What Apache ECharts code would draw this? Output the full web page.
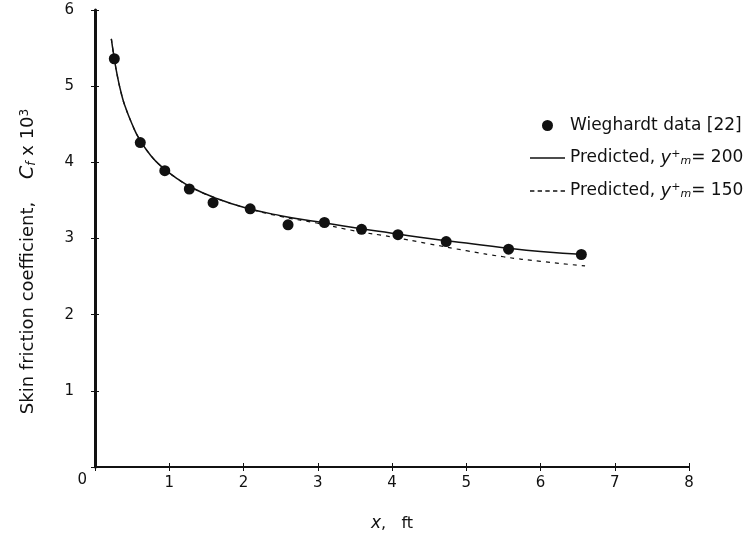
<!DOCTYPE html>
<html>
<head>
<meta charset="utf-8">
<script src="https://cdn.jsdelivr.net/npm/echarts@6/dist/echarts.min.js"></script>
<style>
html,body{margin:0;padding:0;background:#fff;}
#chart{width:754px;height:537px;}
</style>
</head>
<body>
<div id="chart"></div>
<script>
// Wieghardt data [22]
var dataX = [0.26, 0.61, 0.94, 1.27, 1.59, 2.09, 2.60, 3.09, 3.59, 4.08, 4.73, 5.57, 6.55];
var dataY = [5.36, 4.26, 3.89, 3.65, 3.47, 3.39, 3.18, 3.21, 3.12, 3.05, 2.96, 2.86, 2.79];
// predicted curves
var predX = [0.22, 0.26, 0.3, 0.35, 0.4, 0.5, 0.6, 0.75, 0.9, 1.1, 1.3, 1.6, 2.0, 2.5, 3.0, 3.5, 4.0, 4.5, 5.0, 5.5, 6.0, 6.6];
var pred200 = [5.62, 5.36, 5.14, 4.92, 4.75, 4.50, 4.30, 4.09, 3.94, 3.79, 3.67, 3.54, 3.41, 3.30, 3.22, 3.14, 3.07, 3.00, 2.94, 2.88, 2.83, 2.79];
var pred150 = [5.62, 5.36, 5.14, 4.92, 4.75, 4.50, 4.30, 4.09, 3.94, 3.79, 3.67, 3.54, 3.41, 3.29, 3.20, 3.10, 3.02, 2.93, 2.84, 2.76, 2.70, 2.64];

var names = ['Wieghardt data [22]', 'Predicted, y+ = 200', 'Predicted, y+ = 150'];
var ink = '#111';
var font = 'DejaVu Sans';

function pairs(xs, ys){
	var out = [];
	for(var i=0;i<xs.length;i++){
		out.push([xs[i], ys[i]]);
	}
	return out;
}

var myChart = echarts.init(document.getElementById('chart'));
var option = {
	backgroundColor: '#fff',
	animation: false,
	grid: { left: 95, top: 10, width: 594, height: 459 },
	legend: {
		orient: 'vertical',
		left: 525,
		top: 112,
		itemWidth: 35,
		itemHeight: 11,
		itemGap: 15,
		data: [
			{ name: names[0], icon: 'circle' },
			{ name: names[1], icon: 'path://M0,0h35v1.5h-35z' },
			{ name: names[2], icon: 'path://M0,0h4v1.2h-4z M7,0h4v1.2h-4z M14,0h4v1.2h-4z M21,0h4v1.2h-4z M28,0h4v1.2h-4z' }
		],
		formatter: function(name){
			if(name == names[0]) return name;
			var v = name == names[1] ? '200' : '150';
			return 'Predicted, {i|y}{sp|+}{sb|m}= ' + v;
		},
		textStyle: {
			color: ink, fontFamily: font, fontSize: 17,
			rich: {
				i: { fontStyle: 'italic', fontSize: 18, color: ink, fontFamily: font },
				sp: { fontSize: 11, verticalAlign: 'top', color: ink, fontFamily: font },
				sb: { fontSize: 11, verticalAlign: 'bottom', fontStyle: 'italic', color: ink, fontFamily: font }
			}
		}
	},
	xAxis: [{
		type: 'value', min: 0, max: 8, interval: 1, position: 'bottom',
		name: '{i|x},   ft', nameLocation: 'middle', nameGap: 48,
		nameTextStyle: {
			color: ink, fontFamily: font, fontSize: 16,
			rich: { i: { fontStyle: 'italic', fontSize: 17, color: ink, fontFamily: font } }
		},
		axisLine: { lineStyle: { color: ink, width: 2 } },
		axisTick: { length: 4, lineStyle: { color: ink, width: 1 } },
		axisLabel: {
			color: ink, fontFamily: font, fontSize: 15, margin: 9,
			formatter: function(v){ return v == 0 ? '' : v; }
		},
		splitLine: { show: false }
	}, {
		type: 'value', min: 0, max: 8, interval: 1, position: 'bottom',
		axisLine: { show: false },
		axisTick: { inside: true, length: 4, lineStyle: { color: ink, width: 1 } },
		axisLabel: { show: false },
		splitLine: { show: false }
	}],
	yAxis: [{
		type: 'value', min: 0, max: 6, interval: 1, position: 'left',
		name: 'Skin friction coefficient,    {c|C}{f|f} x 10{s|3}',
		nameLocation: 'middle', nameGap: 57, nameRotate: 90,
		nameTextStyle: {
			color: ink, fontFamily: font, fontSize: 18, padding: [0, 46, 0, 0],
			rich: {
				c: { fontStyle: 'italic', fontSize: 19, color: ink, fontFamily: font },
				f: { fontSize: 12, verticalAlign: 'bottom', fontStyle: 'italic', color: ink, fontFamily: font },
				s: { fontSize: 12, verticalAlign: 'top', color: ink, fontFamily: font }
			}
		},
		axisLine: { lineStyle: { color: ink, width: 3 } },
		axisTick: { length: 4, lineStyle: { color: ink, width: 1 } },
		axisLabel: {
			margin: 8,
			formatter: function(v){ return v == 0 ? '{z|0}' : '{n|' + v + '}'; },
			rich: {
				n: { color: ink, fontFamily: font, fontSize: 15, padding: [0, 13, 0, 0] },
				z: { color: ink, fontFamily: font, fontSize: 15, padding: [26, 0, 0, 0] }
			}
		},
		splitLine: { show: false }
	}, {
		type: 'value', min: 0, max: 6, interval: 1, position: 'left',
		axisLine: { show: false },
		axisTick: { inside: true, length: 4, lineStyle: { color: ink, width: 1 } },
		axisLabel: { show: false },
		splitLine: { show: false }
	}],
	series: [{
		name: names[0],
		type: 'scatter',
		symbol: 'circle',
		symbolSize: 11,
		itemStyle: { color: ink, opacity: 1 },
		data: pairs(dataX, dataY),
		z: 5
	}, {
		name: names[1],
		type: 'line',
		symbol: 'none',
		smooth: 0.5,
		lineStyle: { color: ink, width: 1.5 },
		itemStyle: { color: ink },
		data: pairs(predX, pred200)
	}, {
		name: names[2],
		type: 'line',
		symbol: 'none',
		smooth: 0.5,
		lineStyle: { color: ink, width: 1.2, type: [4, 5] },
		itemStyle: { color: ink },
		data: pairs(predX, pred150)
	}]
};
myChart.setOption(option);
</script>
</body>
</html>
